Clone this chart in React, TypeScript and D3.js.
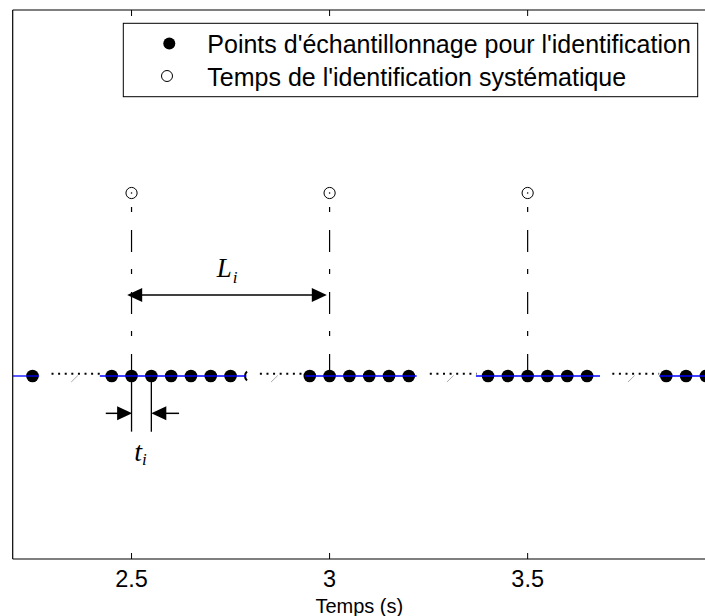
import React from "react";
import * as d3 from "d3";

// ---- data ----
const xTicks = [2.5, 3, 3.5];
const xTickLabels = ["2.5", "3", "3.5"];
const samplePoints = [
  2.25,
  2.45, 2.5, 2.55, 2.6, 2.65, 2.7, 2.75,
  2.95, 3.0, 3.05, 3.1, 3.15, 3.2,
  3.4, 3.45, 3.5, 3.55, 3.6, 3.65,
  3.85, 3.9, 3.95,
];
const identTimes = [2.5, 3.0, 3.5];
const sampleLevel = 1;
const identLevel = 2;
const blueSegments: [number, number][] = [
  [2.2, 2.2667],
  [2.42, 2.79],
  [2.9376, 3.2197],
  [3.3694, 3.6826],
  [3.8323, 3.95],
];
const dottedSegments: [number, number][] = [
  [2.298, 2.42],
  [2.824, 2.938],
  [3.253, 3.371],
  [3.7137, 3.832],
];
const breakMarks = [2.3477, 2.8523, 3.2962, 3.7533];
const legendLabels = [
  "Points d'échantillonnage pour l'identification",
  "Temps de l'identification systématique",
];
const xLabel = "Temps (s)";

// ---- layout ----
const W = 705;
const H = 616;
const x = d3.scaleLinear().domain([2.2, 3.95]).range([12.7, 705.9]);
const y = d3.scaleLinear().domain([0, 3]).range([559, 10]);

const sans = "'Liberation Sans', Arial, Helvetica, sans-serif";
const serif = "'Liberation Serif', 'Times New Roman', serif";

function arrowHead(tipX: number, tipY: number, dir: number, len = 15, half = 7) {
  const bx = tipX - dir * len;
  return `M${tipX},${tipY}L${bx},${tipY - half}L${bx},${tipY + half}Z`;
}

export default function App() {
  const x0 = x.range()[0];
  const x1 = x.range()[1];
  const yTop = y.range()[1];
  const yBot = y.range()[0];
  const line = d3.line<[number, number]>().x((d) => x(d[0])).y((d) => y(d[1]));

  // annotation geometry
  const LiY = y(1.443);
  const LiL = x(2.489);
  const LiR = x(2.993);
  const tiY = y(0.796);
  const tiBottom = y(0.696);
  const tiA = 2.5;
  const tiB = 2.55;

  return (
    <svg width={W} height={H} style={{ position: "absolute", left: 0, top: 0, background: "#fff" }}>
      <rect x={0} y={0} width={W} height={H} fill="#fff" />

      {/* axes box */}
      <line x1={x0} x2={x1} y1={yTop} y2={yTop} stroke="#000" strokeWidth={1.2} />
      <line x1={x0} x2={x1} y1={yBot} y2={yBot} stroke="#000" strokeWidth={1.2} />
      <line x1={x0} x2={x0} y1={yTop} y2={yBot} stroke="#000" strokeWidth={1.2} />
      <line x1={x1} x2={x1} y1={yTop} y2={yBot} stroke="#000" strokeWidth={1.2} />

      {xTicks.map((t, i) => (
        <g key={"t" + i}>
          <line x1={x(t)} x2={x(t)} y1={yBot} y2={yBot - 6} stroke="#000" strokeWidth={1} />
          <line x1={x(t)} x2={x(t)} y1={yTop} y2={yTop + 6} stroke="#000" strokeWidth={1} />
          <text x={x(t)} y={587} textAnchor="middle" fontFamily={sans} fontSize={23.5} fill="#000">
            {xTickLabels[i]}
          </text>
        </g>
      ))}
      <text x={(x0 + x1) / 2} y={613} textAnchor="middle" fontFamily={sans} fontSize={20} fill="#000">
        {xLabel}
      </text>

      {/* dash-dot verticals from sample level to identification level */}
      {identTimes.map((t, i) => (
        <line
          key={"v" + i}
          x1={x(t)}
          x2={x(t)}
          y1={y(sampleLevel)}
          y2={y(identLevel)}
          stroke="#000"
          strokeWidth={1.2}
          strokeDasharray="22 18 5 17"
        />
      ))}

      {/* sample points */}
      {samplePoints.map((p, i) => (
        <circle key={"p" + i} cx={x(p)} cy={y(sampleLevel)} r={6.3} fill="#000" />
      ))}
      {/* partially hidden point */}
      <path
        d={`M${x(2.7915)},${y(sampleLevel) - 4.5}A6,6 0 0 0 ${x(2.7915)},${y(sampleLevel) + 4.5}`}
        fill="none"
        stroke="#000"
        strokeWidth={2}
      />

      {/* blue signal segments */}
      {blueSegments.map((s, i) => (
        <path
          key={"b" + i}
          d={line([[s[0], sampleLevel], [s[1], sampleLevel]]) || ""}
          stroke="#0000ff"
          strokeWidth={1.3}
          fill="none"
        />
      ))}
      {/* dotted gaps */}
      {dottedSegments.map((s, i) => (
        <path
          key={"d" + i}
          d={line([[s[0], sampleLevel + 0.012], [s[1], sampleLevel + 0.012]]) || ""}
          stroke="#000"
          strokeWidth={2}
          strokeDasharray="2 4.6"
          fill="none"
        />
      ))}
      {breakMarks.map((b, i) => (
        <line
          key={"k" + i}
          x1={x(b)}
          y1={y(sampleLevel) + 6}
          x2={x(b) + 6.7}
          y2={y(sampleLevel) - 0.5}
          stroke="#aaa"
          strokeWidth={1}
        />
      ))}

      {/* identification times */}
      {identTimes.map((t, i) => (
        <g key={"c" + i}>
          <circle cx={x(t)} cy={y(identLevel)} r={5.6} fill="#fff" stroke="#000" strokeWidth={1} />
          <circle cx={x(t)} cy={y(identLevel)} r={0.8} fill="#000" />
        </g>
      ))}

      {/* L_i annotation */}
      <line x1={LiL + 10} x2={LiR - 10} y1={LiY} y2={LiY} stroke="#000" strokeWidth={1.5} />
      <path d={arrowHead(LiL, LiY, -1)} fill="#000" />
      <path d={arrowHead(LiR, LiY, 1)} fill="#000" />
      <text x={x(2.715)} y={277} fontFamily={serif} fontStyle="italic" fontSize={27} fill="#000">
        L
      </text>
      <text x={x(2.7555)} y={283} fontFamily={serif} fontStyle="italic" fontSize={17} fill="#000">
        i
      </text>

      {/* t_i annotation */}
      <line x1={x(tiA)} x2={x(tiA)} y1={y(sampleLevel)} y2={tiBottom} stroke="#000" strokeWidth={1.3} />
      <line x1={x(tiB)} x2={x(tiB)} y1={y(sampleLevel)} y2={tiBottom} stroke="#000" strokeWidth={1.3} />
      <line x1={x(2.435)} x2={x(tiA) - 10} y1={tiY} y2={tiY} stroke="#000" strokeWidth={1.5} />
      <path d={arrowHead(x(tiA) + 0.6, tiY, 1)} fill="#000" />
      <line x1={x(2.62)} x2={x(tiB) + 10} y1={tiY} y2={tiY} stroke="#000" strokeWidth={1.5} />
      <path d={arrowHead(x(tiB), tiY, -1)} fill="#000" />
      <text x={x(2.507)} y={461} fontFamily={serif} fontStyle="italic" fontSize={28} fill="#000">
        t
      </text>
      <text x={x(2.5265)} y={465} fontFamily={serif} fontStyle="italic" fontSize={17} fill="#000">
        i
      </text>

      {/* legend */}
      <rect x={123.3} y={23.3} width={574.4} height={73.4} fill="#fff" stroke="#000" strokeWidth={1} />
      <circle cx={169.3} cy={43.5} r={6} fill="#000" />
      <circle cx={167} cy={76} r={5.5} fill="none" stroke="#000" strokeWidth={1} />
      <text x={207.3} y={53.3} fontFamily={sans} fontSize={25} fill="#000">
        {legendLabels[0]}
      </text>
      <text x={207.3} y={86} fontFamily={sans} fontSize={25} fill="#000">
        {legendLabels[1]}
      </text>
    </svg>
  );
}
